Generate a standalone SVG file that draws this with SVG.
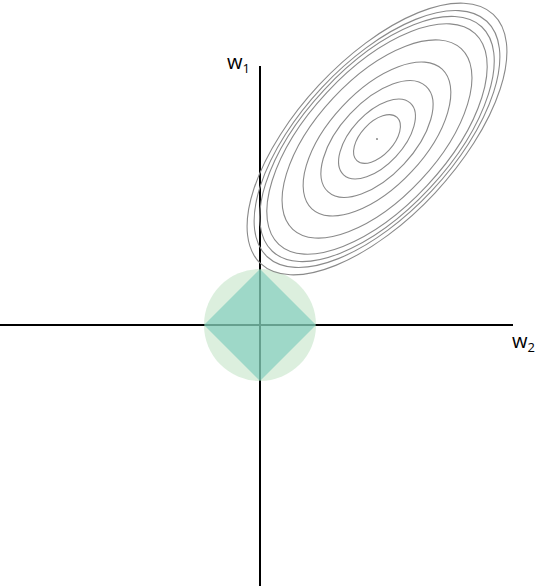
<svg xmlns="http://www.w3.org/2000/svg" width="538" height="586" viewBox="0 0 538 586">
<style>
.axis{stroke:#000;stroke-width:2;fill:none}
.contour{fill:none;stroke:#8a8a8a;stroke-width:1.1}
.lbl{font-family:"Open Sans","Noto Sans",sans-serif;font-size:20px;fill:#000}
.sub{font-size:13px}
</style>
<rect width="538" height="586" fill="#fff"/>
<g id="axes">
<line class="axis" x1="260" y1="66" x2="260" y2="586"/>
<line class="axis" x1="0" y1="325" x2="513" y2="325"/>
</g>
<g id="l2-ball">
<circle cx="260" cy="325" r="56" fill="#8aca91" fill-opacity="0.3"/>
</g>
<g id="l1-ball">
<polygon points="260,269 316,325 260,381 204,325" fill="#82cebe" fill-opacity="0.686"/>
</g>
<g id="contours" transform="rotate(-47 377 139)">
<ellipse class="contour" cx="377" cy="139" rx="29.5" ry="16.4"/>
<ellipse class="contour" cx="377" cy="139" rx="49" ry="25.8"/>
<ellipse class="contour" cx="377" cy="139" rx="72" ry="36.8"/>
<ellipse class="contour" cx="377" cy="139" rx="95.5" ry="47.6"/>
<ellipse class="contour" cx="377" cy="139" rx="123.5" ry="60"/>
<ellipse class="contour" cx="377" cy="139" rx="144" ry="68.4"/>
<ellipse class="contour" cx="377" cy="139" rx="153.5" ry="72.2"/>
<ellipse class="contour" cx="377" cy="139" rx="161" ry="75.4"/>
<ellipse class="contour" cx="377" cy="139" rx="170.5" ry="79.2"/>
<circle cx="377" cy="139" r="1" fill="#8a8a8a"/>
</g>
<g id="labels">
<text class="lbl" x="227" y="69">w<tspan class="sub" dy="4">1</tspan></text>
<text class="lbl" x="512" y="348">w<tspan class="sub" dy="4">2</tspan></text>
</g>
</svg>
